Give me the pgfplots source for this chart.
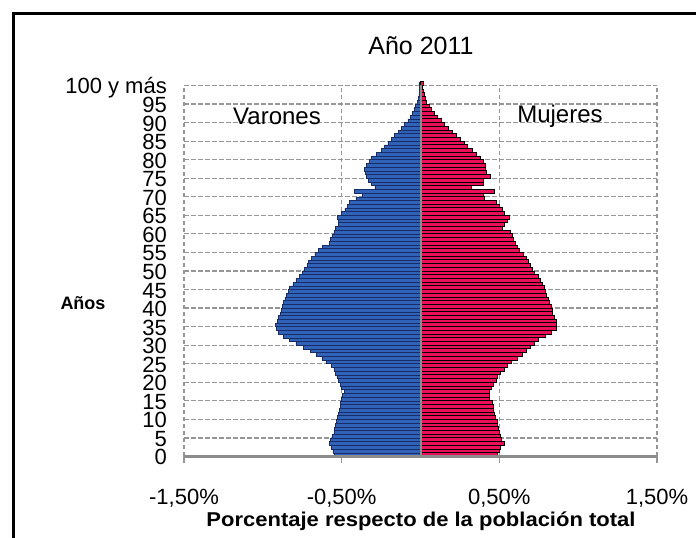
\documentclass[border=0pt]{standalone}
\usepackage{fontspec}
\setmainfont{Liberation Sans}
\usepackage{pgfplots}
\usepackage{pgfplotstable}
\pgfplotsset{compat=1.18}
\definecolor{varon}{RGB}{48,98,184}
\definecolor{varonedge}{RGB}{22,45,105}
\definecolor{mujer}{RGB}{235,14,88}
\definecolor{gridgray}{RGB}{150,150,150}
\definecolor{axisgray}{RGB}{140,140,140}

\pgfplotstableread{
age m
0 -0.55
1 -0.555
2 -0.565
3 -0.58
4 -0.57
5 -0.56
6 -0.55
7 -0.545
8 -0.54
9 -0.535
10 -0.525
11 -0.52
12 -0.515
13 -0.51
14 -0.51
15 -0.50
16 -0.495
17 -0.485
18 -0.50
19 -0.51
20 -0.52
21 -0.53
22 -0.54
23 -0.55
24 -0.565
25 -0.60
26 -0.625
27 -0.66
28 -0.70
29 -0.745
30 -0.79
31 -0.83
32 -0.87
33 -0.90
34 -0.915
35 -0.92
36 -0.91
37 -0.90
38 -0.89
39 -0.88
40 -0.875
41 -0.87
42 -0.86
43 -0.85
44 -0.84
45 -0.83
46 -0.81
47 -0.79
48 -0.77
49 -0.75
50 -0.735
51 -0.72
52 -0.71
53 -0.69
54 -0.67
55 -0.65
56 -0.62
57 -0.58
58 -0.57
59 -0.56
60 -0.55
61 -0.54
62 -0.52
63 -0.52
64 -0.525
65 -0.50
66 -0.48
67 -0.465
68 -0.45
69 -0.41
70 -0.37
71 -0.42
72 -0.29
73 -0.31
74 -0.33
75 -0.345
76 -0.35
77 -0.354
78 -0.344
79 -0.323
80 -0.31
81 -0.28
82 -0.25
83 -0.228
84 -0.207
85 -0.185
86 -0.165
87 -0.14
88 -0.12
89 -0.10
90 -0.08
91 -0.065
92 -0.052
93 -0.04
94 -0.03
95 -0.022
96 -0.015
97 -0.01
98 -0.007
99 -0.005
100 -0.01
}\varones

\pgfplotstableread{
age f
0 0.49
1 0.50
2 0.51
3 0.535
4 0.515
5 0.505
6 0.50
7 0.495
8 0.49
9 0.485
10 0.475
11 0.47
12 0.465
13 0.46
14 0.455
15 0.44
16 0.435
17 0.435
18 0.45
19 0.465
20 0.48
21 0.49
22 0.51
23 0.53
24 0.55
25 0.575
26 0.615
27 0.645
28 0.675
29 0.70
30 0.725
31 0.75
32 0.79
33 0.83
34 0.86
35 0.865
36 0.86
37 0.85
38 0.84
39 0.835
40 0.83
41 0.82
42 0.81
43 0.80
44 0.79
45 0.785
46 0.775
47 0.76
48 0.745
49 0.725
50 0.71
51 0.70
52 0.685
53 0.67
54 0.65
55 0.63
56 0.615
57 0.60
58 0.59
59 0.58
60 0.57
61 0.52
62 0.535
63 0.55
64 0.565
65 0.53
66 0.52
67 0.50
68 0.48
69 0.405
70 0.40
71 0.47
72 0.32
73 0.40
74 0.40
75 0.445
76 0.42
77 0.415
78 0.415
79 0.40
80 0.38
81 0.355
82 0.33
83 0.30
84 0.278
85 0.255
86 0.23
87 0.205
88 0.18
89 0.155
90 0.133
91 0.11
92 0.09
93 0.072
94 0.055
95 0.04
96 0.03
97 0.022
98 0.017
99 0.015
100 0.02
}\mujeres

\begin{document}
\begin{tikzpicture}[x=1pt,y=1pt]
\path[use as bounding box] (0,0) rectangle (696,538);
\draw[line width=3pt] (13,0) -- (13,524) -- (696,524);
\begin{axis}[
  at={(184pt,81.5pt)}, anchor=south west,
  scale only axis, width=473pt, height=371pt,
  xmin=-1.5, xmax=1.5, ymin=-0.5, ymax=99.5,
  clip=false,
  xbar, bar width=1, bar shift=0pt,
  axis line style={draw=none},
  xtick={-1.5,-0.5,0.5,1.5},
  xticklabels={{-1,50\%},{-0,50\%},{0,50\%},{1,50\%}},
  ytick={-0.5,4.5,...,99.5},
  yticklabels={0,5,10,15,20,25,30,35,40,45,50,55,60,65,70,75,80,85,90,95,100 y más},
  grid=major,
  major grid style={gridgray, line width=1.2pt, dash pattern=on 4.5pt off 2.5pt},
  tick align=outside, major tick length=7pt,
  xtick pos=bottom,
  xtick style={gridgray, line width=1.2pt},
  ytick style={draw=none},
  xticklabel style={font=\fontsize{22}{24}\selectfont, anchor=center, yshift=-35pt},
  yticklabel style={font=\fontsize{22}{24}\selectfont, anchor=east, inner sep=0pt,
    text height=15pt, text depth=0pt, xshift=-10pt, yshift=-1pt},
]
\addplot[fill=varon, draw=varonedge, line width=0.55pt] table[x=m, y=age] {\varones};
\addplot[fill=mujer, draw=black, line width=0.9pt] table[x=f, y=age] {\mujeres};
\draw[axisgray, line width=2pt] (axis cs:0,-0.5) -- (axis cs:0,99.5);
\draw[axisgray, line width=3pt] (axis cs:-1.5,-0.5) -- (axis cs:1.5,-0.5);
\end{axis}
\node[font=\fontsize{25}{28}\selectfont] at (421,492) {Año 2011};
\node[font=\fontsize{24}{26}\selectfont] at (277,422) {Varones};
\node[font=\fontsize{24}{26}\selectfont] at (560,422) {Mujeres};
\node[font=\fontsize{18}{20}\selectfont\bfseries] at (83,235) {Años};
\node[font=\fontsize{20}{22}\selectfont\bfseries, xscale=1.1] at (421,17) {Porcentaje respecto de la población total};
\end{tikzpicture}
\end{document}
